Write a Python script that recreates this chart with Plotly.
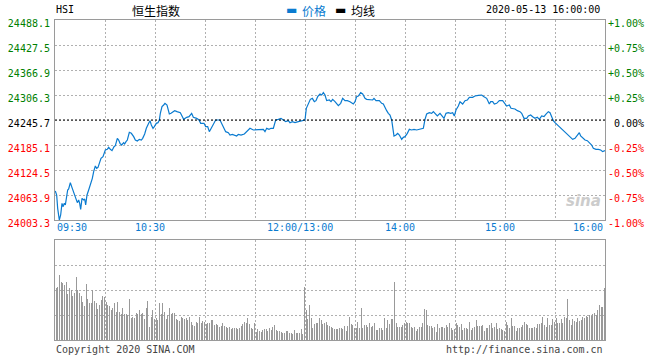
import plotly.graph_objects as go

# ---------------- data ----------------
PREV_CLOSE = 24245.7
Y_MIN, Y_MAX = 24003.3, 24488.1

# minutes since 09:30 (lunch break removed), and index level
t_min = [0.2, 1.0, 1.6, 2.2, 2.6, 3.4, 4.2, 4.8, 5.6, 6.2, 7.0, 7.6, 8.2, 9.2, 10.0, 10.8, 11.8, 12.6,
         13.4, 14.2, 14.8, 15.4, 16.2, 17.2, 17.8, 18.4, 19.2, 20.2, 21.2, 22.4, 23.2, 24.2, 25.0,
         25.8, 26.6, 27.6, 28.8, 30.2, 31.4, 32.2, 33.2, 34.2, 35.4, 36.2, 37.4, 38.2, 39.0, 40.0,
         41.2, 41.8, 42.6, 43.4, 44.6, 45.8, 47.2, 48.2, 49.4, 50.6, 51.8, 52.6, 53.8, 54.8, 56.2,
         57.0, 57.8, 58.8, 59.6, 60.8, 61.8, 62.6, 63.2, 64.2, 65.2, 66.0, 67.2, 67.8, 68.6, 69.6,
         70.6, 71.8, 73.2, 75.2, 76.2, 77.2,
         79, 80.4, 82, 83, 85, 86.4, 87.4, 89.4, 90.4, 91.6, 92.6, 93.6, 95, 96.4, 99, 100, 101.2,
         102.4, 104, 105, 106.4, 108, 109, 110, 111.6, 113.6, 115, 117, 119, 121, 123, 125, 126, 127,
         128.4, 129.6, 131, 132.4, 134, 135.6, 137, 138.4, 140, 141, 142.4, 144, 146, 148, 150,
         150.8, 152, 153.2, 154.4, 155.6, 156.6, 157.6,
         159, 160, 161, 162, 163, 164.6, 165.6, 166.6, 168, 170, 171.4, 172.6, 174, 175.4, 177, 179,
         180, 181, 182, 183.4, 184.6, 186, 187, 189, 190.6, 191.4, 192.6, 194.6, 196, 197, 198, 199,
         200, 201, 202, 202.6, 203.4, 204.6, 205.6, 206.6, 208, 209, 210, 211.4, 212.6, 214, 215.4,
         217, 218.6, 220, 221, 222, 223, 224.6, 226, 227, 228, 229.4, 231, 232, 233.4, 234.6, 236,
         237.4, 238.6, 239.6, 240.6, 242,
         243, 244.6, 246, 247.4, 248.6, 250.6, 252, 254, 256, 257.4, 259, 260.6, 261.4, 262.6, 263.6,
         265, 266.6, 268.6, 270, 271, 272.6, 273.6, 276, 277.4, 279, 280, 281.4, 283, 284, 285.4,
         286.6, 288, 289.4, 290.6, 292, 293.4, 294.6, 296, 297, 298, 299, 300, 301.4, 303, 304.6,
         306, 307.4, 309, 310.6, 312, 313.4, 314.6, 315.4, 316.6, 318, 319.4, 320.6, 322, 323, 324.6,
         326, 327.4, 328.6, 330]

price = [24073.6, 24063.9, 24031.6, 24007.3, 24003.3, 24015.4, 24043.7, 24035.6, 24043.7, 24039.7,
         24061.5, 24076.0, 24078.4, 24093.8, 24084.1, 24076.0, 24063.9, 24053.4, 24045.3, 24051.8,
         24043.7, 24029.2, 24055.8, 24051.8, 24054.2, 24039.7, 24063.9, 24076.0, 24088.1, 24104.3,
         24120.5, 24134.2, 24128.5, 24131.0, 24140.7, 24152.8, 24156.8, 24172.9, 24174.6, 24179.4,
         24174.6, 24171.4, 24181.0, 24183.5, 24201.3, 24197.2, 24189.2, 24185.1, 24190.8, 24187.5,
         24193.2, 24197.2, 24215.8, 24213.4, 24205.3, 24197.2, 24194.8, 24198.8, 24197.2, 24201.3,
         24211.8, 24225.5, 24237.6, 24244.1, 24233.6, 24225.5, 24229.6, 24237.6, 24239.2, 24245.7,
         24261.9, 24278.0, 24282.1, 24286.1, 24282.1, 24269.9, 24260.2, 24261.9, 24265.9, 24268.3,
         24265.9, 24263.5, 24255.4, 24247.3,
         24252.2, 24253.8, 24261.9, 24252.2, 24249.7, 24245.7, 24237.6, 24237.6, 24229.6, 24229.6,
         24217.4, 24225.5, 24237.6, 24245.7, 24245.7, 24237.6, 24225.5, 24217.4, 24215.0, 24209.3,
         24210.9, 24209.3, 24206.9, 24210.9, 24209.3, 24211.8, 24217.4, 24225.5, 24221.5, 24221.5,
         24223.1, 24223.1, 24217.4, 24225.5, 24223.1, 24225.5, 24225.5, 24245.7, 24247.3, 24249.7,
         24245.7, 24241.7, 24244.1, 24239.2, 24241.7, 24239.2, 24241.7, 24244.1, 24245.7,
         24274.0, 24284.5, 24295.8, 24298.2, 24290.1, 24292.6, 24302.3,
         24308.7, 24306.3, 24312.0, 24306.3, 24292.6, 24294.2, 24290.1, 24295.8, 24290.1, 24280.4,
         24286.1, 24298.2, 24292.6, 24292.6, 24290.1, 24284.5, 24290.1, 24302.3, 24303.9, 24312.0,
         24308.7, 24298.2, 24295.8, 24295.8, 24294.2, 24298.2, 24292.6, 24292.6, 24286.1, 24284.5,
         24274.0, 24268.3, 24261.9, 24257.8, 24245.7, 24221.5, 24206.9, 24209.3, 24213.4, 24209.3,
         24198.8, 24203.7, 24205.3, 24213.4, 24223.1, 24221.5, 24223.1, 24221.5, 24223.1, 24225.5,
         24225.5, 24247.3, 24260.2, 24263.5, 24261.9, 24265.9, 24261.9, 24255.4, 24261.9, 24257.8,
         24249.7, 24261.9, 24263.5, 24261.9, 24263.5, 24255.4, 24269.9, 24279.6,
         24290.1, 24284.5, 24292.6, 24294.2, 24300.7, 24300.7, 24303.9, 24305.5, 24306.3, 24302.3,
         24298.2, 24284.5, 24290.1, 24290.1, 24284.5, 24286.1, 24292.6, 24292.6, 24286.1, 24279.6,
         24282.1, 24274.0, 24272.4, 24268.3, 24265.9, 24261.9, 24249.7, 24249.7, 24255.4, 24257.8,
         24253.8, 24249.7, 24252.2, 24247.3, 24255.4, 24253.8, 24260.2, 24265.9, 24263.5, 24253.8,
         24244.1, 24239.2, 24233.6, 24227.9, 24223.1, 24217.4, 24211.8, 24205.3, 24198.8, 24201.3,
         24209.3, 24215.0, 24206.9, 24201.3, 24197.2, 24195.6, 24190.8, 24185.1, 24177.0, 24174.6,
         24174.6, 24173.0, 24169.0, 24171.4]

# per-minute volume (relative units, pane max = 100), minutes 1..330
volume = [51.7, 53.3, 65, 58.3, 57.3, 55, 58.3, 46, 51.7, 50,
          44, 46.7, 63.3, 50, 46.7, 44, 38.3, 34.3, 56, 40.7,
          37.3, 36.7, 50, 39.3, 36.7, 30.7, 35, 40, 44, 42.7,
          38.3, 35, 34, 30, 31.7, 37.3, 28.3, 38.3, 28.3, 26,
          31.7, 26, 26, 25, 40.7, 21.7, 22.7, 21.7, 26.7, 26,
          30, 26, 26.7, 20.7, 31.7, 39.3, 13.3, 23.3, 30, 20.7,
          21.7, 20, 36.7, 26, 36.7, 28.3, 21, 25, 31.7, 26,
          26.7, 27.3, 20.7, 20, 19.3, 22.7, 21.7, 20.7, 21.7, 20,
          23.3, 18.3, 15, 14, 18.3, 17.3, 22.7, 16.7, 19.3, 18.3,
          16, 16.7, 16.7, 20, 20, 15, 16, 15, 13.3, 14,
          16.7, 14, 12.7, 11.7, 13.3, 10.7, 11.7, 11.7, 11.7, 10.7,
          11.7, 14, 16, 18.3, 17.3, 21.7, 16, 11.7, 10.7, 16.7,
          8.3, 10.7, 9, 8.3, 10, 10.7, 10.7, 9.3, 11.7, 10,
          13.3, 15, 10, 8.7, 9.3, 8.3, 7.3, 7.3, 9.3, 8.7,
          7.3, 6.7, 6, 10, 6.7, 7.3, 7.3, 11, 6, 53.3,
          30, 20.7, 35, 21.7, 11.7, 16, 17.3, 16.7, 21.7, 20,
          16, 16.7, 18.3, 15,
          14, 13.3, 11.7, 11, 11, 10.7, 11.7, 12.3, 10.7, 14,
          9.3, 14, 22.7, 16, 15, 11.7, 11.7, 18.3, 11.7, 31.7,
          11.7, 15, 15, 13.3, 16.7, 13.3, 14.3, 16.7, 10, 10,
          12.3, 11.7, 10, 21.7, 11.7, 20, 16, 20.7, 20.7, 58.3,
          16.7, 12.7, 12.7, 13.3, 15, 16.7, 17.7, 17.3, 17.3, 13.3,
          11.7, 12.7, 9.3, 11, 13.3, 12.7, 16.7, 30.7, 30, 15,
          14, 14.3, 11.7, 13.3, 8.3, 16, 11.7, 12.7, 13.3, 11.7,
          15, 13.3, 16.7, 11.7, 10, 10.7, 16.7, 15, 13.3, 16,
          10, 11.7, 11.7, 10.7, 18.3, 10, 11.7, 12.7, 20, 14,
          14, 14, 15, 9.3, 11.7, 11.7, 15, 16.7, 11.7, 13.3,
          16.7, 10.7, 11.7, 10.7, 10, 9.3, 18.3, 15, 11.7, 21.7,
          14, 14, 9.3, 11.7, 11.7, 12.7, 15, 18.3, 16, 15,
          11.7, 11.7, 11.7, 13.3, 11.7, 16, 16, 16.7, 23.3, 15,
          12.7, 21.7, 15, 15, 20.7, 18.3, 21.7, 17.3, 16.7, 20.7,
          17.3, 23.3, 21.7, 40.7, 20, 15, 20.7, 19.3, 18.3, 21.7,
          19.3, 20, 23.3, 21.7, 24, 23.3, 25, 24, 25.7, 26.7,
          25, 30, 35, 33.3, 32.7, 51.7]
vol_min = list(range(1, len(volume) + 1))

PRICE_TICKS = [24003.3, 24063.9, 24124.5, 24185.1, 24245.7, 24306.3, 24366.9, 24427.5, 24488.1]
PRICE_LABELS = ["24003.3", "24063.9", "24124.5", "24185.1", "24245.7", "24306.3", "24366.9", "24427.5", "24488.1"]
PCT_LABELS = ["-1.00%", "-0.75%", "-0.50%", "-0.25%", "\u00a00.00%", "+0.25%", "+0.50%", "+0.75%", "+1.00%"]
TIME_POS = [0, 60, 150, 210, 270, 330]
TIME_LABELS = ["09:30", "10:30", "12:00/13:00", "14:00", "15:00", "16:00"]

# ---------------- style ----------------
W, H = 660, 360
BLUE = "#0a7bd0"
GREEN = "#008000"
RED = "#ff0000"
GRID = "#b0b0b0"
BORDER = "#9a9a9a"
MONO = "DejaVu Sans Mono"
CJK = "Noto Sans CJK SC"

L, R = 55, 605
MAIN_T, MAIN_B = 20, 220
VOL_T, VOL_B = 240, 340


def px_x(p):
    return p / W


def px_y(p):
    return 1 - p / H


def colored(labels, ticks):
    out = []
    for lab, v in zip(labels, ticks):
        if abs(v - PREV_CLOSE) < 1e-6:
            c = "#000000"
        elif v > PREV_CLOSE:
            c = GREEN
        else:
            c = RED
        out.append(f"<span style='color:{c}'>{lab}</span>")
    return out


fig = go.Figure()
fig.add_trace(go.Scatter(x=t_min, y=price, mode="lines", xaxis="x", yaxis="y",
                         line=dict(color=BLUE, width=1.2), hoverinfo="skip"))
fig.add_trace(go.Bar(x=vol_min, y=volume, xaxis="x2", yaxis="y2", width=0.6, offset=-0.6,
                     marker=dict(color="#999999", line=dict(width=0)), hoverinfo="skip"))
fig.add_trace(go.Scatter(x=[], y=[], xaxis="x", yaxis="y3", showlegend=False))

fig.add_shape(type="line", xref="x domain", x0=0, x1=1, yref="y", y0=PREV_CLOSE, y1=PREV_CLOSE,
              line=dict(color="#000000", width=1, dash="2px,2px"), layer="above")

axis_common = dict(showgrid=True, gridcolor=GRID, griddash="2px,2px", gridwidth=1,
                   showline=True, mirror=True, linecolor=BORDER, linewidth=1,
                   zeroline=False, ticks="", fixedrange=True, automargin=False)

fig.update_layout(
    width=W, height=H, margin=dict(l=0, r=0, t=0, b=0, autoexpand=False),
    paper_bgcolor="white", plot_bgcolor="white", showlegend=False,
    bargap=0,
    xaxis=dict(domain=[px_x(L), px_x(R)], anchor="y", range=[0, 330], tick0=0, dtick=30,
               showticklabels=False, **axis_common),
    yaxis=dict(domain=[px_y(MAIN_B), px_y(MAIN_T)], anchor="x", range=[Y_MIN, Y_MAX],
               tickvals=PRICE_TICKS, ticktext=colored(PRICE_LABELS, PRICE_TICKS),
               tickfont=dict(family=MONO, size=10), ticklabelshift=3, ticklabelstandoff=2,
               **axis_common),
    yaxis3=dict(overlaying="y", side="right", anchor="x", range=[Y_MIN, Y_MAX],
                tickvals=PRICE_TICKS, ticktext=colored(PCT_LABELS, PRICE_TICKS),
                tickfont=dict(family=MONO, size=10), ticklabelshift=3, ticklabelstandoff=2,
                showgrid=False, showline=False, zeroline=False, ticks="", fixedrange=True,
                automargin=False),
    xaxis2=dict(domain=[px_x(L), px_x(R)], anchor="y2", range=[0, 330], tick0=0, dtick=30,
                showticklabels=False, **axis_common),
    yaxis2=dict(domain=[px_y(VOL_B), px_y(VOL_T)], anchor="x2", range=[0, 100],
                tickvals=[25, 50, 75], showticklabels=False, **axis_common),
)

ann = []
# time labels
for pos, lab in zip(TIME_POS, TIME_LABELS):
    if pos == TIME_POS[0]:
        xa, xs = "left", 0
    elif pos == TIME_POS[-1]:
        xa, xs = "right", 0
    else:
        xa, xs = "center", -5
    ann.append(dict(x=pos, xref="x", y=px_y(227), yref="paper", text=lab, showarrow=False,
                    xanchor=xa, yanchor="middle", xshift=xs,
                    font=dict(family=MONO, size=10, color=BLUE)))

header = [
    dict(x=px_x(54), y=px_y(9), text="HSI", xanchor="left",
         font=dict(family=MONO, size=10, color="#000")),
    dict(x=px_x(130), y=px_y(10), text="恒生指数", xanchor="left",
         font=dict(family=CJK, size=12, color="#000")),
    dict(x=px_x(284), y=px_y(10), text="▬", xanchor="left",
         font=dict(family="DejaVu Sans", size=12, color=BLUE)),
    dict(x=px_x(300), y=px_y(10), text="价格", xanchor="left",
         font=dict(family=CJK, size=12, color=BLUE)),
    dict(x=px_x(333), y=px_y(10), text="▬", xanchor="left",
         font=dict(family="DejaVu Sans", size=12, color="#000")),
    dict(x=px_x(349), y=px_y(10), text="均线", xanchor="left",
         font=dict(family=CJK, size=12, color="#000")),
    dict(x=px_x(602), y=px_y(9), text="2020-05-13 16:00:00", xanchor="right",
         font=dict(family=MONO, size=10, color="#000")),
    dict(x=px_x(54), y=px_y(349), text="Copyright 2020 SINA.COM", xanchor="left",
         font=dict(family=MONO, size=10, color="#444")),
    dict(x=px_x(605), y=px_y(349), text="http://finance.sina.com.cn", xanchor="right",
         font=dict(family=MONO, size=10, color="#444")),
    dict(x=px_x(603), y=px_y(201), text="<b><i>sina</i></b>", xanchor="right",
         font=dict(family="DejaVu Sans", size=15, color="#cccccc")),
]
for a in header:
    a.update(xref="paper", yref="paper", yanchor="middle", showarrow=False)
fig.update_layout(annotations=ann + header)

fig.write_html("out.html", config={"displayModeBar": False, "staticPlot": True},
               post_script="document.body.style.margin='0';document.body.style.padding='0';")
